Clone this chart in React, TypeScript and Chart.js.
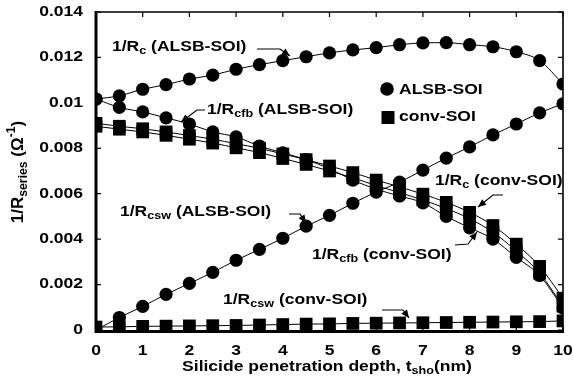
import React, { useEffect, useRef } from "react";
import { Chart, registerables } from "chart.js";
Chart.register(...registerables);

const depth = [0, 0.5, 1, 1.5, 2, 2.5, 3, 3.5, 4, 4.5, 5, 5.5, 6, 6.5, 7, 7.5, 8, 8.5, 9, 9.5, 10];
const rcAlsb = [0.01017, 0.01031, 0.0106, 0.0108, 0.01105, 0.01122, 0.01148, 0.01168, 0.01186, 0.01203, 0.0122, 0.01233, 0.01243, 0.01256, 0.01264, 0.01265, 0.01256, 0.01247, 0.01225, 0.01186, 0.01083];
const rcfbAlsb = [0.01017, 0.0098, 0.0096, 0.00934, 0.00907, 0.00872, 0.0085, 0.0081, 0.0078, 0.0075, 0.0071, 0.0066, 0.0062, 0.0059, 0.0056, 0.005, 0.0045, 0.004, 0.0032, 0.0024, 0.00097];
const rcswAlsb = [0, 0.00055, 0.00104, 0.00157, 0.00205, 0.00254, 0.00307, 0.00355, 0.00404, 0.00457, 0.00505, 0.00558, 0.00607, 0.00651, 0.00704, 0.00757, 0.00806, 0.00859, 0.00907, 0.00956, 0.00996];
const rcConv = [0.0091, 0.00897, 0.00886, 0.00872, 0.00856, 0.0084, 0.0082, 0.008, 0.00775, 0.0075, 0.00722, 0.00693, 0.0066, 0.0063, 0.00598, 0.00562, 0.00518, 0.0046, 0.00378, 0.0028, 0.0014];
const rcfbConv = [0.00897, 0.00884, 0.00872, 0.00857, 0.0084, 0.00823, 0.00802, 0.00781, 0.00755, 0.00729, 0.007, 0.0067, 0.00636, 0.00605, 0.00572, 0.00535, 0.0049, 0.0043, 0.00348, 0.0025, 0.00105];
const rcswConv = [0.00013, 0.00014, 0.00016, 0.00017, 0.00018, 0.00019, 0.0002, 0.00022, 0.00024, 0.00026, 0.00027, 0.00029, 0.0003, 0.00031, 0.00032, 0.00033, 0.00034, 0.00035, 0.00036, 0.00037, 0.0004];

const yTicks = [0, 0.002, 0.004, 0.006, 0.008, 0.01, 0.012, 0.014];
const yTickLabels = ["0", "0.002", "0.004", "0.006", "0.008", "0.01", "0.012", "0.014"];
const xTicks = [0, 1, 2, 3, 4, 5, 6, 7, 8, 9, 10];
const xTickLabels = ["0", "1", "2", "3", "4", "5", "6", "7", "8", "9", "10"];
const legendLabels = ["ALSB-SOI", "conv-SOI"];

const FONT = '"Liberation Sans", Arial, Helvetica, sans-serif';
const SX = 1.25;

type Part = [string, number]; // 0 normal, 1 sub, 2 sup

function richWidth(ctx: CanvasRenderingContext2D, parts: Part[], size: number) {
  let w = 0;
  for (const [t, k] of parts) {
    ctx.font = `bold ${k ? size * 0.72 : size}px ${FONT}`;
    w += ctx.measureText(t).width;
  }
  return w;
}

function drawRich(ctx: CanvasRenderingContext2D, parts: Part[], x: number, y: number, size: number, sx: number, align: string, rot = 0) {
  ctx.save();
  ctx.translate(x, y);
  if (rot) ctx.rotate(rot);
  ctx.scale(sx, 1);
  ctx.fillStyle = "#000";
  ctx.textBaseline = "middle";
  ctx.textAlign = "left";
  const total = richWidth(ctx, parts, size);
  let cx = align === "center" ? -total / 2 : align === "right" ? -total : 0;
  for (const [t, k] of parts) {
    ctx.font = `bold ${k ? size * 0.72 : size}px ${FONT}`;
    const dy = k === 1 ? size * 0.32 : k === 2 ? -size * 0.38 : 0;
    ctx.fillText(t, cx, dy);
    cx += ctx.measureText(t).width;
  }
  ctx.restore();
}

function arrow(ctx: CanvasRenderingContext2D, pts: number[][]) {
  ctx.save();
  ctx.strokeStyle = "#000";
  ctx.fillStyle = "#000";
  ctx.lineWidth = 1.2;
  ctx.beginPath();
  ctx.moveTo(pts[0][0], pts[0][1]);
  for (let i = 1; i < pts.length; i++) ctx.lineTo(pts[i][0], pts[i][1]);
  ctx.stroke();
  const [x1, y1] = pts[pts.length - 2];
  const [x2, y2] = pts[pts.length - 1];
  const a = Math.atan2(y2 - y1, x2 - x1);
  const L = 8, W = 3.5;
  ctx.beginPath();
  ctx.moveTo(x2, y2);
  ctx.lineTo(x2 - L * Math.cos(a) + W * Math.sin(a), y2 - L * Math.sin(a) - W * Math.cos(a));
  ctx.lineTo(x2 - L * Math.cos(a) - W * Math.sin(a), y2 - L * Math.sin(a) + W * Math.cos(a));
  ctx.closePath();
  ctx.fill();
  ctx.restore();
}

const framePlugin = {
  id: "frame",
  beforeDatasetsDraw(chart: any) {
    const ctx: CanvasRenderingContext2D = chart.ctx;
    const { left, right, top, bottom } = chart.chartArea;
    const xs = chart.scales.x, ys = chart.scales.y;
    ctx.save();
    ctx.strokeStyle = "#000";
    ctx.lineWidth = 1.6;
    ctx.beginPath();
    ctx.moveTo(left, top); ctx.lineTo(right, top); ctx.lineTo(right, bottom);
    ctx.stroke();
    ctx.lineWidth = 1.2;
    ctx.beginPath();
    for (const v of yTicks) {
      const py = ys.getPixelForValue(v);
      ctx.moveTo(left, py); ctx.lineTo(left + 5, py);
      ctx.moveTo(right, py); ctx.lineTo(right - 5, py);
    }
    for (const v of xTicks) {
      const px = xs.getPixelForValue(v);
      ctx.moveTo(px, top); ctx.lineTo(px, top + 5);
      ctx.moveTo(px, bottom); ctx.lineTo(px, bottom - 5);
    }
    ctx.stroke();
    ctx.lineWidth = 3;
    ctx.beginPath();
    ctx.moveTo(left, top - 1); ctx.lineTo(left, bottom + 1.5); ctx.lineTo(right + 1, bottom + 1.5);
    ctx.stroke();
    ctx.restore();
  },
  afterDraw(chart: any) {
    const ctx: CanvasRenderingContext2D = chart.ctx;
    const xs = chart.scales.x, ys = chart.scales.y;
    yTicks.forEach((v, i) => {
      drawRich(ctx, [[yTickLabels[i], 0]], 83, ys.getPixelForValue(v), 14, SX, "right");
    });
    xTicks.forEach((v, i) => {
      drawRich(ctx, [[xTickLabels[i], 0]], xs.getPixelForValue(v), 351, 14, SX, "center");
    });
    drawRich(ctx, [["Silicide penetration depth, t", 0], ["sho", 1], ["(nm)", 0]], 327, 367, 14, SX, "center");
    drawRich(ctx, [["1/R", 0], ["series", 1], [" (\u03A9", 0], ["-1", 2], [")", 0]], 18, 172, 17, 1, "center", -Math.PI / 2);

    // legend
    ctx.save();
    ctx.fillStyle = "#000";
    ctx.beginPath();
    ctx.arc(387, 89, 6.8, 0, Math.PI * 2);
    ctx.fill();
    ctx.fillRect(381.5, 111, 13, 13);
    ctx.restore();
    drawRich(ctx, [[legendLabels[0], 0]], 399, 90, 14, SX, "left");
    drawRich(ctx, [[legendLabels[1], 0]], 399, 117, 14, SX, "left");

    // annotations
    drawRich(ctx, [["1/R", 0], ["c", 1], [" (ALSB-SOI)", 0]], 112, 47, 14, SX, "left");
    arrow(ctx, [[257, 49], [280, 49], [290, 56]]);
    drawRich(ctx, [["1/R", 0], ["cfb", 1], [" (ALSB-SOI)", 0]], 207, 110, 14, SX, "left");
    arrow(ctx, [[205, 110], [197, 110], [181, 122]]);
    drawRich(ctx, [["1/R", 0], ["csw", 1], [" (ALSB-SOI)", 0]], 120, 212, 14, SX, "left");
    arrow(ctx, [[289, 214], [300, 214], [306, 223]]);
    drawRich(ctx, [["1/R", 0], ["c", 1], [" (conv-SOI)", 0]], 435, 181, 14, SX, "left");
    arrow(ctx, [[503, 195], [493, 195], [478, 207]]);
    drawRich(ctx, [["1/R", 0], ["cfb", 1], [" (conv-SOI)", 0]], 312, 255, 14, SX, "left");
    arrow(ctx, [[455, 245], [468, 244], [477, 232]]);
    drawRich(ctx, [["1/R", 0], ["csw", 1], [" (conv-SOI)", 0]], 223, 300, 14, SX, "left");
    arrow(ctx, [[382, 310], [403, 310], [409, 318]]);
  },
};

function mk(values: number[], style: string) {
  return {
    data: depth.map((x, i) => ({ x, y: values[i] })),
    borderColor: "#000",
    backgroundColor: "#000",
    borderWidth: 1,
    pointStyle: style,
    pointRadius: style === "rect" ? 9 : 6.6,
    pointBorderWidth: 0,
    cubicInterpolationMode: "monotone",
    fill: false,
  };
}

export default function App() {
  const ref = useRef<HTMLCanvasElement>(null);
  useEffect(() => {
    if (!ref.current) return;
    const chart = new Chart(ref.current, {
      type: "line",
      data: {
        datasets: [
          mk(rcConv, "rect"),
          mk(rcfbConv, "rect"),
          mk(rcswConv, "rect"),
          mk(rcAlsb, "circle"),
          mk(rcfbAlsb, "circle"),
          mk(rcswAlsb, "circle"),
        ] as any,
      },
      options: {
        responsive: false,
        animation: false,
        layout: { padding: { left: 96, right: 10, top: 12, bottom: 62 } },
        plugins: { legend: { display: false }, tooltip: { enabled: false } },
        scales: {
          x: { type: "linear", min: 0, max: 10, display: false },
          y: { type: "linear", min: 0, max: 0.014, display: false },
        },
      },
      plugins: [framePlugin],
    });
    return () => chart.destroy();
  }, []);
  return (
    <div style={{ position: "absolute", left: 0, top: 0, width: 573, height: 392, background: "#fff" }}>
      <canvas ref={ref} width={573} height={392} style={{ width: 573, height: 392 }} />
    </div>
  );
}
